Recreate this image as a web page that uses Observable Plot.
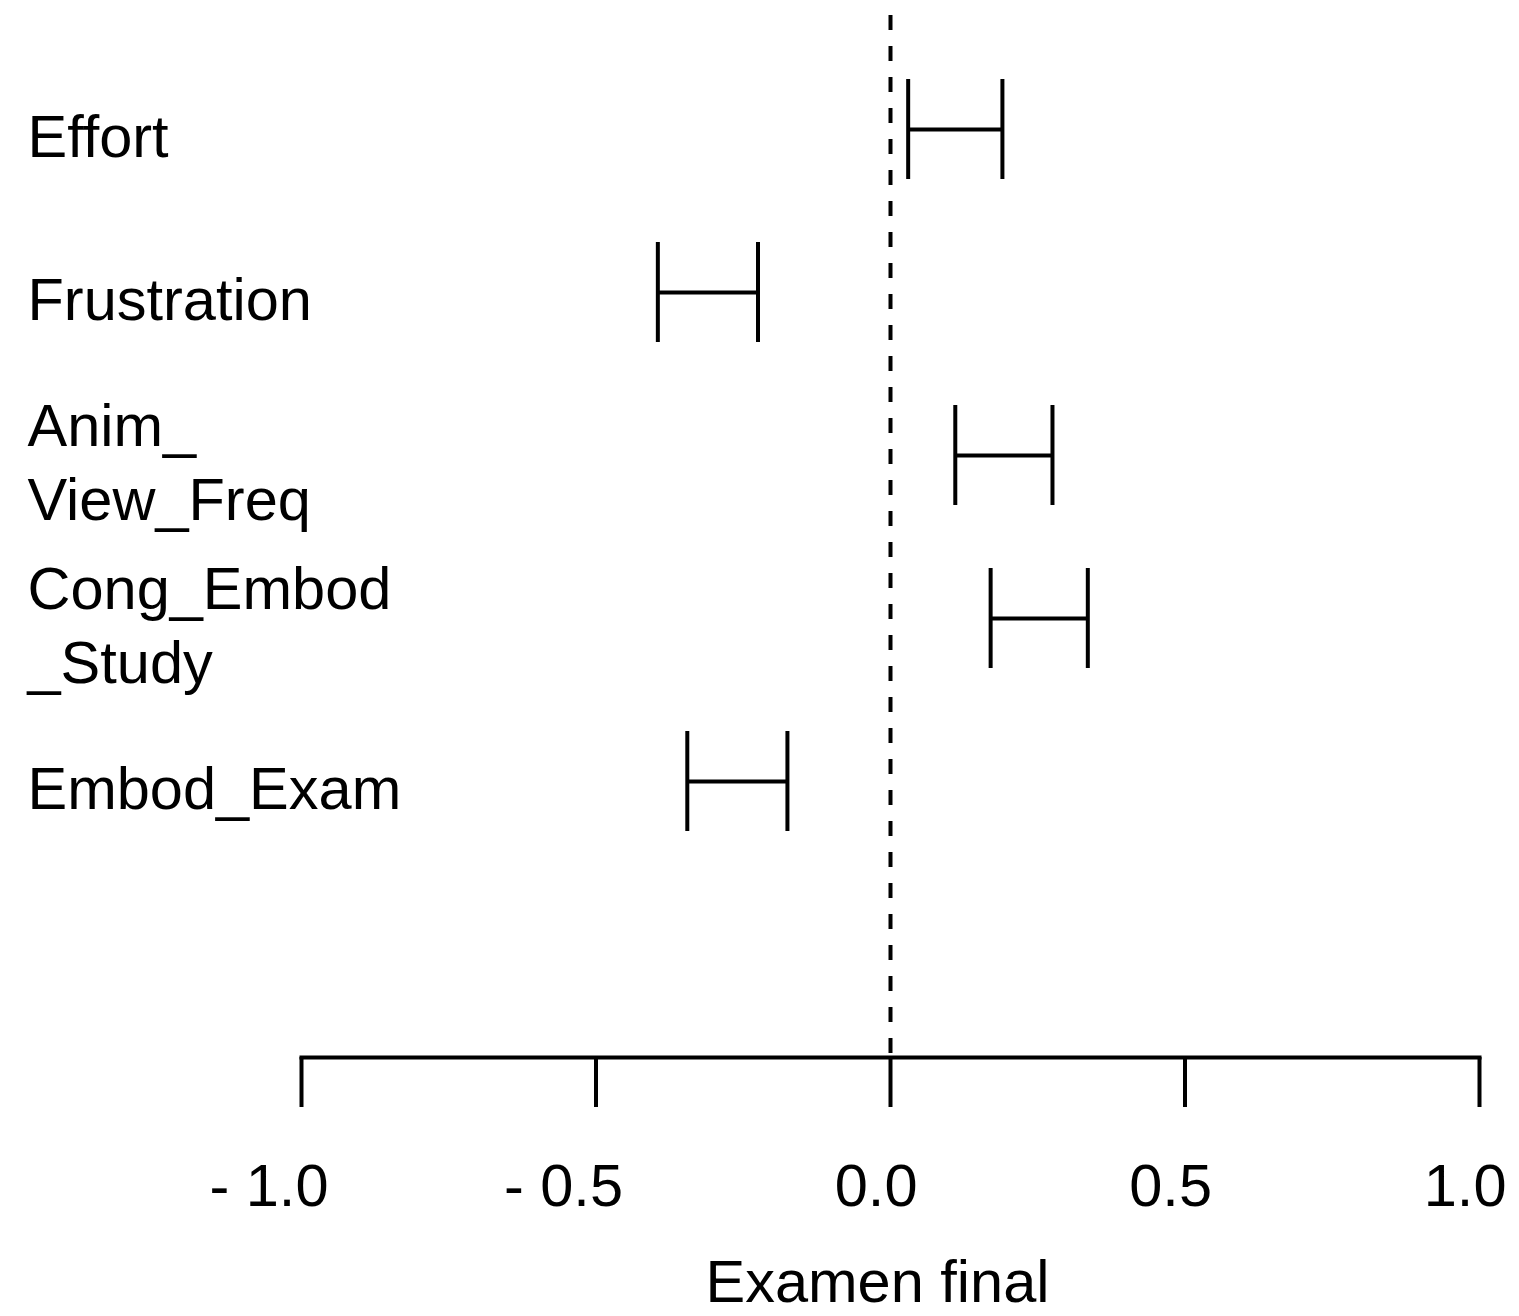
<!DOCTYPE html>
<html>
<head>
<meta charset="utf-8">
<script src="https://cdn.jsdelivr.net/npm/d3@7"></script>
<script src="https://cdn.jsdelivr.net/npm/@observablehq/plot@0.6"></script>
<style>
  html, body { margin: 0; padding: 0; background: #fff; }
  #chart svg { display: block; }
</style>
</head>
<body>
<div id="chart"></div>
<script>
// ---- Data ----
const names  = ["Effort", "Frustration", "Anim_View_Freq", "Cong_Embod_Study", "Embod_Exam"];
const labels = ["Effort", "Frustration", "Anim_\nView_Freq", "Cong_Embod\n_Study", "Embod_Exam"];
const lower  = [0.03, -0.395, 0.11, 0.17, -0.345];
const upper  = [0.19, -0.225, 0.275, 0.335, -0.175];
const tickValues = [-1, -0.5, 0, 0.5, 1];
const axisTitle = "Examen final";

const rows = names.map((n, i) => ({name: n, label: labels[i], lo: lower[i], hi: upper[i]}));
const fmt = d => (d < 0 ? "- " : "") + Math.abs(d).toFixed(1);

const FONT = "'Liberation Sans', Arial, Helvetica, sans-serif";
const FS = 59.5;
const LW = 4;

const chart = Plot.plot({
  width: 1519,
  height: 1316,
  marginLeft: 301,
  marginRight: 40,
  marginTop: 15,
  marginBottom: 259,
  style: {fontFamily: FONT, fontSize: FS + "px", color: "#000", background: "#fff"},
  x: {domain: [-1, 1]},
  y: {type: "band", domain: names, range: [77, 832], paddingInner: 0.389, paddingOuter: 0, axis: null},
  marks: [
    Plot.ruleX([0], {stroke: "#000", strokeWidth: LW, strokeDasharray: "15,16"}),
    Plot.ruleY(rows, {y: "name", x1: "lo", x2: "hi", stroke: "#000", strokeWidth: LW}),
    Plot.tickX(rows, {x: "lo", y: "name", stroke: "#000", strokeWidth: LW}),
    Plot.tickX(rows, {x: "hi", y: "name", stroke: "#000", strokeWidth: LW}),
    Plot.text(rows, {y: "name", text: "label", frameAnchor: "left", textAnchor: "start", dx: -274, dy: 4, fontSize: FS, lineHeight: 1.25, fill: "#000"}),
    Plot.frame({anchor: "bottom", stroke: "#000", strokeWidth: LW}),
    // tick marks only
    Plot.axisX({ticks: tickValues, tickSize: 50, strokeWidth: LW, stroke: "#000", fill: null, label: null}),
    // tick labels only
    Plot.axisX({ticks: tickValues, tickFormat: fmt, tickSize: 0, tickPadding: 106, fontSize: FS, fill: "#000", textAnchor: "end", dx: 27, label: null}),
    Plot.text([axisTitle], {text: d => d, frameAnchor: "bottom", lineAnchor: "middle", dx: -13, dy: 225, fontSize: FS, fill: "#000"})
  ]
});

document.getElementById("chart").appendChild(chart);
</script>
</body>
</html>
